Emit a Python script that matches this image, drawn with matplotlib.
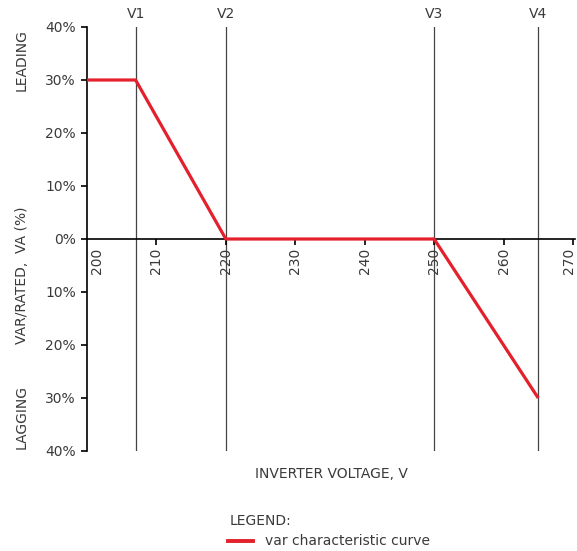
import numpy as np
import matplotlib.pyplot as plt

plt.rcParams['font.family'] = ['DejaVu Sans']

# var characteristic curve (voltage, var/rated VA %)
voltage = [200, 207, 220, 250, 265]
var_pct = [30, 30, 0, 0, -30]

v_names = ['V1', 'V2', 'V3', 'V4']
v_points = [207, 220, 250, 265]

x_ticks = [200, 210, 220, 230, 240, 250, 260, 270]
y_ticks = [40, 30, 20, 10, 0, -10, -20, -30, -40]

txt = '#3a3a3a'
fs = 10

fig = plt.figure(figsize=(5.77, 5.51), dpi=100)
ax = fig.add_axes([87 / 577, 0.1815, 488 / 577, 0.7695])

for v, name in zip(v_points, v_names):
    ax.axvline(v, color='#444444', lw=0.9, zorder=1)
    ax.text(v, 41.2, name, ha='center', va='bottom', fontsize=fs, color=txt)

ax.plot(voltage, var_pct, color='#e3202b', lw=2.3, solid_capstyle='butt', zorder=3,
        label='var characteristic curve')

ax.set_xlim(200, 270.3)
ax.set_ylim(-40, 40)
ax.spines['top'].set_visible(False)
ax.spines['right'].set_visible(False)
ax.spines['bottom'].set_position(('data', 0))
ax.spines['left'].set_linewidth(1.2)
ax.spines['bottom'].set_linewidth(1.2)

ax.set_yticks(y_ticks)
ax.set_yticklabels(['%d%%' % abs(t) for t in y_ticks])
ax.tick_params(axis='y', length=4, width=1.2, labelsize=fs, labelcolor=txt, pad=4)

ax.set_xticks(x_ticks[1:])
ax.set_xticklabels([])
ax.tick_params(axis='x', length=4, width=1.2)
for t in x_ticks:
    # first label sits right of the spine, last one pulled in to stay on the canvas
    xpos = t + 1.4 if t == 200 else (t - 0.5 if t == 270 else t)
    ax.text(xpos, -1.6, str(t), rotation=90, ha='center', va='top', fontsize=fs, color=txt)

fig.text(0.038, 0.5, 'VAR/RATED,  VA (%)', rotation=90, ha='center', va='center',
         fontsize=fs, color=txt)
fig.text(0.038, 0.891, 'LEADING', rotation=90, ha='center', va='center', fontsize=fs, color=txt)
fig.text(0.038, 0.243, 'LAGGING', rotation=90, ha='center', va='center', fontsize=fs, color=txt)

fig.text(331 / 577, 1 - 474 / 551, 'INVERTER VOLTAGE, V', ha='center', va='center',
         fontsize=fs, color=txt)

fig.text(230 / 577, 1 - 521 / 551, 'LEGEND:', ha='left', va='center', fontsize=fs, color=txt)
fig.lines.append(plt.Line2D([228 / 577, 253 / 577], [1 - 541 / 551, 1 - 541 / 551],
                            transform=fig.transFigure, color='#e3202b', lw=2.8))
fig.text(265 / 577, 1 - 541 / 551, 'var characteristic curve', ha='left', va='center',
         fontsize=fs, color=txt)

plt.savefig('out.png', dpi=100)
